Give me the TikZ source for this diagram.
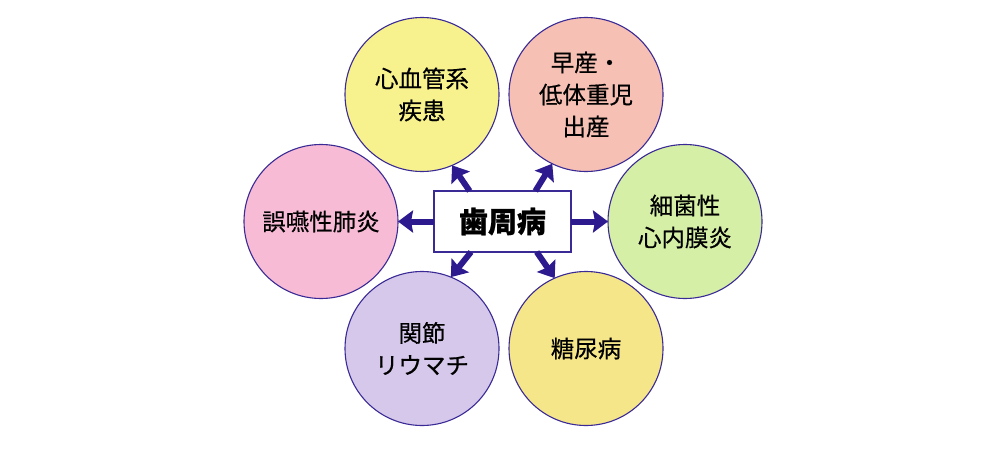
\documentclass[tikz,border=0pt]{standalone}
\usepackage{fontspec}
\setmainfont{Noto Sans CJK JP}[BoldFeatures={FakeBold=0.8}]
\newfontfamily\medjp{Noto Sans CJK JP}[FakeBold=0.5]
\usetikzlibrary{arrows.meta,calc}
\definecolor{edge}{HTML}{3A2A96}
\definecolor{arr}{HTML}{2C1A8E}
\definecolor{cyel}{HTML}{F7F28E}
\definecolor{csal}{HTML}{F6C0B4}
\definecolor{cpink}{HTML}{F8BBD6}
\definecolor{cgreen}{HTML}{D5EFA6}
\definecolor{clav}{HTML}{D6C8EA}
\definecolor{cyel2}{HTML}{F6E68A}
\tikzset{
  disease/.style={circle, draw=edge, line width=1.1pt, minimum size=154pt, inner sep=0pt, outer sep=0pt,
    align=center, font=\medjp\fontsize{23.5}{32}\selectfont},
  centerbox/.style={rectangle, draw=edge, line width=1.4pt, fill=white, minimum width=137pt, minimum height=61pt,
    inner sep=0pt, outer sep=0pt, font=\fontsize{29}{34}\selectfont\bfseries},
  link/.style={draw=arr, line width=6pt, -{Stealth[length=15pt,width=22pt,inset=2pt]}}
}
\begin{document}
\begin{tikzpicture}[x=1pt,y=-1pt]
\useasboundingbox (0,0) rectangle (1000,450);
\node[disease, fill=cyel] (tl) at (422,94.5) {心血管系\\疾患};
\node[disease, fill=csal] (tr) at (586,94.5) {早産・\\低体重児\\出産};
\node[disease, fill=cpink] (l) at (321,221.5) {誤嚥性肺炎};
\node[disease, fill=cgreen] (r) at (685,221.5) {細菌性\\心内膜炎};
\node[disease, fill=clav] (bl) at (422,348.5) {関節\\リウマチ};
\node[disease, fill=cyel2] (br) at (586,348.5) {糖尿病};
\node[centerbox] (c) at (502.5,221.5) {歯周病};
\coordinate (s1) at ($(c.north west)!0.26!(c.north east)$);
\coordinate (s2) at ($(c.north west)!0.74!(c.north east)$);
\coordinate (s3) at ($(c.south west)!0.27!(c.south east)$);
\coordinate (s4) at ($(c.south west)!0.75!(c.south east)$);
\draw[link] (s1) -- (tl.-67);
\draw[link] (s2) -- (tr.-116);
\draw[link] (s3) -- (bl.68);
\draw[link] (s4) -- (br.114);
\draw[link] (c.west) -- (l.east);
\draw[link] (c.east) -- (r.west);
\end{tikzpicture}
\end{document}
